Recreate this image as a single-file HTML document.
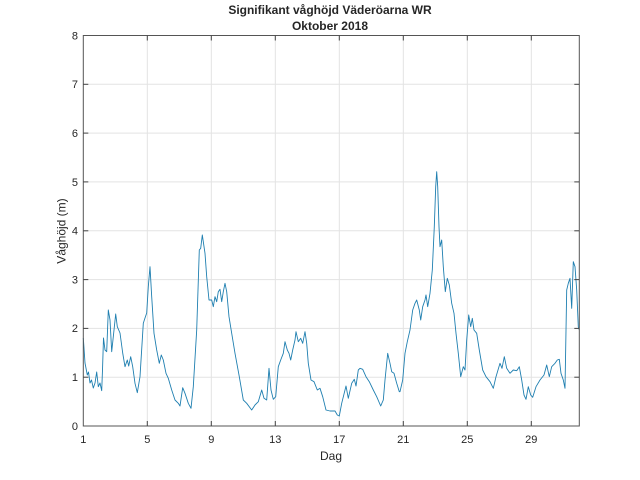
<!DOCTYPE html>
<html><head><meta charset="utf-8"><style>
html,body{margin:0;padding:0;background:#fff;}
svg{display:block;}
text{font-family:"Liberation Sans",Arial,sans-serif;fill:#262626;}
</style></head><body>
<svg width="640" height="480" viewBox="0 0 640 480" xmlns="http://www.w3.org/2000/svg">
<rect width="640" height="480" fill="#fff"/>
<rect x="83.3" y="35.5" width="496" height="390.5" fill="#fff"/>
<g stroke="#e3e3e3" stroke-width="1">
<line x1="147.3" y1="35.5" x2="147.3" y2="426"/>
<line x1="211.3" y1="35.5" x2="211.3" y2="426"/>
<line x1="275.3" y1="35.5" x2="275.3" y2="426"/>
<line x1="339.3" y1="35.5" x2="339.3" y2="426"/>
<line x1="403.3" y1="35.5" x2="403.3" y2="426"/>
<line x1="467.3" y1="35.5" x2="467.3" y2="426"/>
<line x1="531.3" y1="35.5" x2="531.3" y2="426"/>
<line x1="83.3" y1="377.2" x2="579.3" y2="377.2"/>
<line x1="83.3" y1="328.4" x2="579.3" y2="328.4"/>
<line x1="83.3" y1="279.6" x2="579.3" y2="279.6"/>
<line x1="83.3" y1="230.8" x2="579.3" y2="230.8"/>
<line x1="83.3" y1="181.9" x2="579.3" y2="181.9"/>
<line x1="83.3" y1="133.1" x2="579.3" y2="133.1"/>
<line x1="83.3" y1="84.3" x2="579.3" y2="84.3"/>
</g>
<polyline fill="none" stroke="#1f7fb0" stroke-width="0.9" stroke-linejoin="round" points="
83.3,338 85,363 87.3,375 88.5,372 90,383 91.5,380 93.3,388 95,383 96.7,372 98.3,386.7 100,383 101.7,390.7 102.5,370 103.5,338 105,350 106.7,351.7 108.3,310 110,320 111.7,351.7 113.3,336.7 115.7,314 117.3,326.7 120,333 122.7,353 125,366.7 127.3,360 128.7,366 130.7,356.7 132.7,366.7 135,383.3 137.3,392.7 140,376.7 143.3,323.3 145,318 146.7,313 148.3,286.7 150,266.7 151.7,296.7 154,333.3 156.7,350 159.3,363.3 161.3,355 163.3,360 166,373.3 168.3,378.3 171.7,390 175,400 178.3,403.3 180,406 182.7,387.7 185,393.3 188.3,403.3 191,408.3 193.3,386.7 196.7,330 199.3,250 200.7,248.3 202.3,235 205,253.3 206.7,276.7 209,300 211.7,300 213.3,306.7 215,296.7 216.7,301.7 218.3,291.7 220,289.3 221.7,301.7 223.3,291.7 225,283.3 226.7,291.7 229,316.7 231.7,333.3 235,353.3 239.3,376.7 243.3,400 246.7,403.3 251.7,410 255,405 258.3,401.7 261.7,390 264,398.3 266.7,400 269,368.3 271,390 273.3,399.3 275.7,396.7 278.3,366.7 280.7,360 283.3,353.3 285,341.7 287.3,350 289,353.3 290.7,360 292.7,350 295,340 296,331.7 298.3,341.7 300.7,338.3 302.7,343.3 305,331.7 306.7,343.3 308.3,363.3 311,380 314,381.7 317.3,390 320,388.3 322.7,396.7 326,410 330,411 335,411 337.3,415 339.3,416 341.7,403.3 346,386 348.3,398.3 351.7,383.3 354.3,379.3 356,386 358.3,370 360,368.3 362.7,369.3 366,376.7 369.3,381.7 373.3,390 376.7,396.7 380.7,406 383.3,400 385,380 387.7,353.3 390,363.3 391.7,371.7 394,373.3 396.7,383.3 399.3,391.7 400,391.7 402.7,380 405,353.3 407.3,341.7 410,330 412.7,310 415,303.3 416.7,300 419.3,310 420.7,320 422.7,306.7 425,300 426,295 427.7,306.7 430,293.3 432.3,270 434.3,226.7 435.7,186.7 436.7,171.7 437.7,186.7 439,226.7 440,246.7 441.7,240 443.3,266.7 445.3,291.7 447.3,278.3 449.3,285 451.7,303.3 454,313.3 456,333.3 458.3,353.3 460.7,376.7 463.3,366.7 465,370 466.7,340 468.7,315 470.7,326.7 472.3,318.3 474,330 476.7,333.3 479.3,350 482.7,370 486,376.7 490,381.7 493.3,388.3 496,376.7 500,363.3 502,368.3 504.3,356.7 506.7,368.3 510,373.3 513.3,370 516.7,370.7 519.3,366.7 521.7,380 524,395 526,399.3 528.3,386.7 530.7,395 532.7,397.3 536,386.7 540,380 544,375 546.7,365 549.3,376.7 551.7,366.7 555,363.3 557.3,360 559.3,359.3 561,373.3 563.3,380 565,388.3 566.7,290 568.3,283.3 570,278.3 571.7,308.3 573.3,261.7 575,266.7 576.7,290 578.3,326.7 579.3,330"/>
<g stroke="#262626" stroke-width="1" fill="none">
<rect x="83.3" y="35.5" width="496" height="390.5" stroke="#555"/>
</g>
<g stroke="#444" stroke-width="1">
<line x1="147.3" y1="426" x2="147.3" y2="421"/><line x1="211.3" y1="426" x2="211.3" y2="421"/><line x1="275.3" y1="426" x2="275.3" y2="421"/><line x1="339.3" y1="426" x2="339.3" y2="421"/><line x1="403.3" y1="426" x2="403.3" y2="421"/><line x1="467.3" y1="426" x2="467.3" y2="421"/><line x1="531.3" y1="426" x2="531.3" y2="421"/>
<line x1="147.3" y1="35.5" x2="147.3" y2="40.5"/><line x1="211.3" y1="35.5" x2="211.3" y2="40.5"/><line x1="275.3" y1="35.5" x2="275.3" y2="40.5"/><line x1="339.3" y1="35.5" x2="339.3" y2="40.5"/><line x1="403.3" y1="35.5" x2="403.3" y2="40.5"/><line x1="467.3" y1="35.5" x2="467.3" y2="40.5"/><line x1="531.3" y1="35.5" x2="531.3" y2="40.5"/>
<line x1="83.3" y1="377.2" x2="88.3" y2="377.2"/><line x1="83.3" y1="328.4" x2="88.3" y2="328.4"/><line x1="83.3" y1="279.6" x2="88.3" y2="279.6"/><line x1="83.3" y1="230.8" x2="88.3" y2="230.8"/><line x1="83.3" y1="181.9" x2="88.3" y2="181.9"/><line x1="83.3" y1="133.1" x2="88.3" y2="133.1"/><line x1="83.3" y1="84.3" x2="88.3" y2="84.3"/>
<line x1="579.3" y1="377.2" x2="574.3" y2="377.2"/><line x1="579.3" y1="328.4" x2="574.3" y2="328.4"/><line x1="579.3" y1="279.6" x2="574.3" y2="279.6"/><line x1="579.3" y1="230.8" x2="574.3" y2="230.8"/><line x1="579.3" y1="181.9" x2="574.3" y2="181.9"/><line x1="579.3" y1="133.1" x2="574.3" y2="133.1"/><line x1="579.3" y1="84.3" x2="574.3" y2="84.3"/>
</g>
<g font-size="11" text-anchor="end">
<text x="78" y="430">0</text><text x="78" y="381">1</text><text x="78" y="332">2</text><text x="78" y="283.5">3</text><text x="78" y="234.5">4</text><text x="78" y="186">5</text><text x="78" y="137">6</text><text x="78" y="88">7</text><text x="78" y="39.5">8</text>
</g>
<g font-size="11" text-anchor="middle">
<text x="83.3" y="443">1</text><text x="147.3" y="443">5</text><text x="211.3" y="443">9</text><text x="275.3" y="443">13</text><text x="339.3" y="443">17</text><text x="403.3" y="443">21</text><text x="467.3" y="443">25</text><text x="531.3" y="443">29</text>
</g>
<text x="331" y="460" font-size="12" text-anchor="middle">Dag</text>
<text x="0" y="0" font-size="12" text-anchor="middle" transform="translate(65.5,231) rotate(-90)">Våghöjd (m)</text>
<text x="330" y="14" font-size="12" font-weight="bold" text-anchor="middle" fill="#000">Signifikant våghöjd Väderöarna WR</text>
<text x="330" y="30" font-size="12" font-weight="bold" text-anchor="middle" fill="#000">Oktober 2018</text>
</svg>
</body></html>
